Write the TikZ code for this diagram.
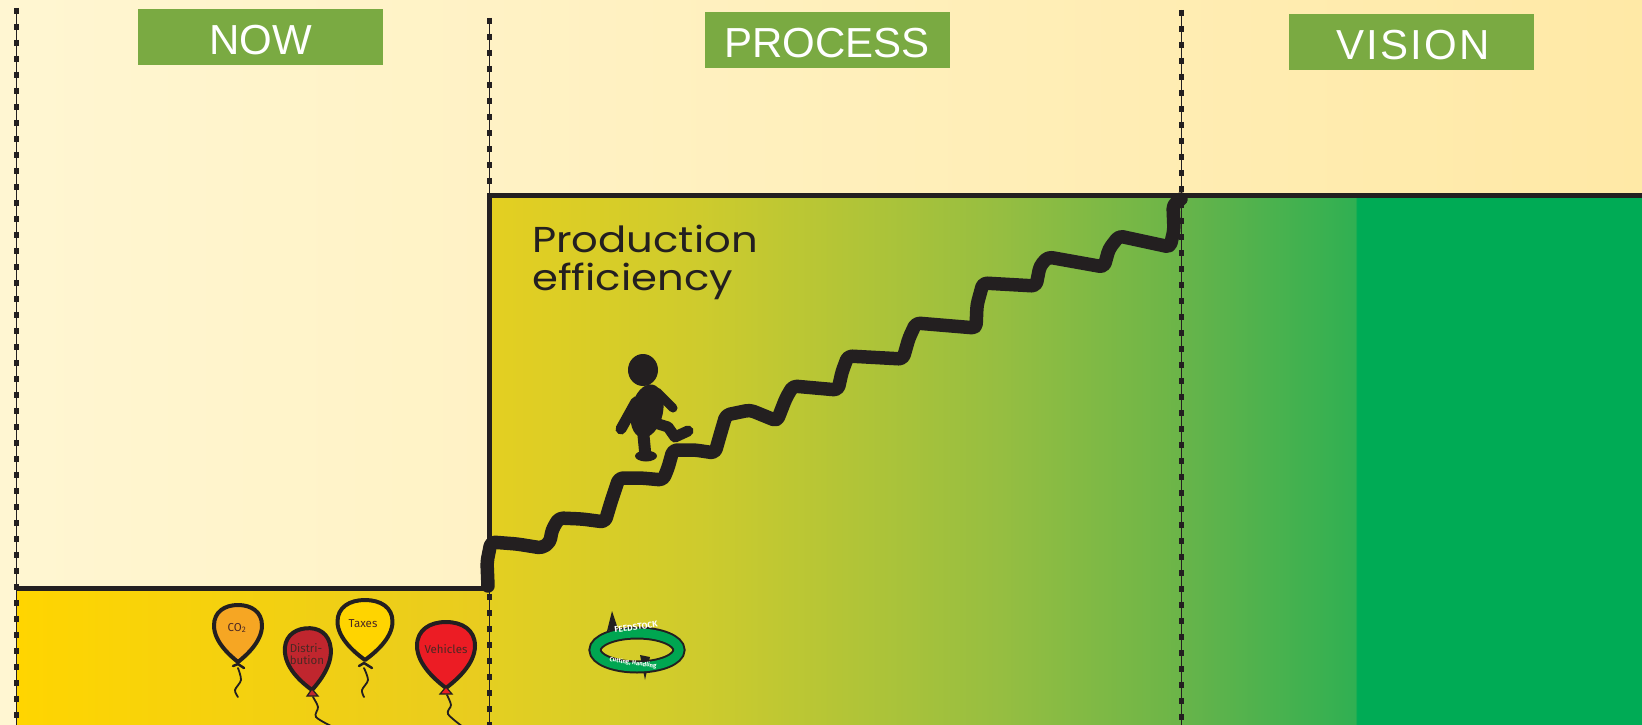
\documentclass[tikz,border=0pt]{standalone}
\usepackage{fontspec}
\setmainfont{Liberation Sans}
\newfontfamily\prodfont[FakeStretch=1.16]{Poppins}
\newfontfamily\tagfont{Fira Sans}

\definecolor{ink}{RGB}{35,31,32}
\definecolor{creamL}{RGB}{255,246,210}
\definecolor{creamR}{RGB}{255,233,166}
\definecolor{nowL}{RGB}{255,213,0}
\definecolor{nowR}{RGB}{232,204,32}
\definecolor{procA}{RGB}{228,207,33}
\definecolor{procB}{RGB}{206,203,45}
\definecolor{procC}{RGB}{150,190,65}
\definecolor{procD}{RGB}{107,181,72}
\definecolor{visA}{RGB}{104,180,74}
\definecolor{visB}{RGB}{48,176,82}
\definecolor{visC}{RGB}{0,171,85}
\definecolor{headgreen}{RGB}{122,170,66}
\definecolor{co2col}{RGB}{246,166,35}
\definecolor{distcol}{RGB}{192,38,46}
\definecolor{taxcol}{RGB}{255,212,0}
\definecolor{vehcol}{RGB}{236,28,36}
\definecolor{ringgreen}{RGB}{0,166,81}
\definecolor{tagink}{RGB}{75,40,35}

% colour runs across the middle and right panels (visible part 25bp..75bp)
\pgfdeclarehorizontalshading{procshade}{100bp}{color(0bp)=(procA); color(25bp)=(procA); color(40.25bp)=(procB); color(61.92bp)=(procC); color(75bp)=(procD); color(100bp)=(procD)}
\pgfdeclarehorizontalshading{visshade}{100bp}{color(0bp)=(visA); color(25bp)=(visA); color(43.9bp)=(visB); color(44.1bp)=(visC); color(75bp)=(visC); color(100bp)=(visC)}

\tikzset{
  header/.style={fill=headgreen, minimum width=245pt, minimum height=56pt, inner sep=0pt},
  headtext/.style={text=white, font=\fontsize{42}{42}\selectfont, inner sep=0pt, anchor=base},
  boxline/.style={draw=ink, line width=5pt, line join=miter},
  stair/.style={draw=ink, line width=13.5pt, line join=round, line cap=round, rounded corners=4pt},
  prodtext/.style={text=ink, font=\prodfont\fontsize{36}{38}\selectfont, inner sep=0pt},
  dividerline/.style={draw=ink, line width=0.8pt},
  dividerdash/.style={draw=ink, line width=5pt, dash pattern=on 6pt off 10pt},
  balloonedge/.style={draw=ink, line width=4pt, line join=round},
  tag/.style={text=tagink, font=\tagfont\fontsize{11.5}{12}\selectfont, inner sep=0pt, align=center},
  cord/.style={draw=ink, line width=1.8pt, line cap=round},
  ringtext/.style={text=white, font=\tagfont\bfseries\fontsize{8.5}{8.5}\selectfont, inner sep=0pt},
  ringtextsmall/.style={text=white, font=\tagfont\bfseries\fontsize{6}{6}\selectfont, inner sep=0pt},
  pics/balloon/.style={code={
    \path[balloonedge, fill=#1] (0,0) .. controls (-0.15,-0.1) and (-0.5,-0.35) .. (-0.5,-0.64)
      .. controls (-0.5,-0.88) and (-0.28,-1) .. (0,-1)
      .. controls (0.28,-1) and (0.5,-0.88) .. (0.5,-0.64)
      .. controls (0.5,-0.35) and (0.15,-0.1) .. (0,0) -- cycle;
  }}
}

\begin{document}
\begin{tikzpicture}[x=1pt,y=-1pt]
\useasboundingbox (0,0) rectangle (1642,725);
\clip (0,0) rectangle (1642,725);

% backgrounds
\shade[left color=creamL, right color=creamR] (0,0) rectangle (1642,725);
\shade[left color=nowL, right color=nowR] (16,588) rectangle (489,725);
\shade[shading=procshade] (489,195) rectangle (1181,725);
\shade[shading=visshade] (1181,195) rectangle (1642,725);

% outline of the two levels
\draw[boxline] (16,588) -- (489,588) -- (489,195) -- (1642,195);

% panel headings
\node[header] (now) at (260.5,37.5) {};
\node[headtext] (nowt) at (260.5,55) {NOW};
\node[header] (process) at (827,40.3) {};
\node[headtext] (processt) at (827,58) {PROCESS};
\node[header] (vision) at (1411,42.4) {};
\node[headtext] (visiont) at (1413,60) {\addfontfeature{LetterSpace=5}VISION};

% heading inside the middle panel
\node[prodtext, anchor=base west] (prod1) at (532,252) {Production};
\node[prodtext, anchor=base west] (prod2) at (532,290) {efficiency};

% the staircase
\draw[stair] (488,586) -- (487,562) -- (491,542) -- (517,544) -- (542,548) -- (550,542)
  -- (552,530) -- (559,518) -- (582,519) -- (605,522) -- (611,502) -- (619,478)
  -- (641,478) -- (663,480) -- (668,468) -- (673,450) -- (695,450) -- (715,453)
  -- (721,432) -- (726,415) -- (750,410) -- (777,421) -- (786,398) -- (793,386)
  -- (838,390) -- (842,372) -- (848,356) -- (903,359) -- (909,338) -- (916,323)
  -- (976,328) -- (977,305) -- (983,283) -- (1036,286) -- (1040,266) -- (1048,257)
  -- (1104,267) -- (1109,249) -- (1119,236) -- (1170,247) -- (1174,230) -- (1173,205)
  -- (1181,199);

% little climber
\fill[ink] (643,370) ellipse [x radius=15pt, y radius=16pt];
\fill[ink, rotate around={-12:(647,411)}] (647,411) ellipse [x radius=16pt, y radius=27pt];
\draw[ink, line width=11pt, line cap=round] (636,402) -- (621,429);
\draw[ink, line width=9pt, line cap=round] (657,392) -- (673,408);
\draw[ink, line width=12pt, line cap=round] (643,430) -- (645,451);
\fill[ink] (646,456) ellipse [x radius=11pt, y radius=5.5pt];
\draw[ink, line width=11pt, line cap=round, line join=round] (652,422) -- (668,427) -- (675,437) -- (688,431);

% feedstock loop
\draw[ink, line width=13pt] (637,650) ellipse [x radius=42pt, y radius=17pt];
\fill[ink] (612,611) -- (607,631) -- (618,629) -- cycle;
\fill[ink] (645,680) -- (640,655) -- (650,657) -- cycle;
\draw[ringgreen, line width=9pt] (637,650) ellipse [x radius=42pt, y radius=17pt];
\node[ringtext, rotate=8] (feed) at (636,627) {FEEDSTOCK};
\node[ringtextsmall, rotate=-8] (cut) at (633,663) {Cutting, Handling};

% balloons
\pic[xscale=48, yscale=57] (co2b) at (238,662) {balloon=co2col};
\node[tag] (co2t) at (237,628) {CO\textsubscript{2}};
\draw[ink, line width=2.5pt, line cap=round] (233,666) -- (238,664) -- (244,668);
\draw[cord] plot[smooth] coordinates {(238,668) (241,680) (235,690) (238,697)};

\pic[rotate=6, xscale=46, yscale=62] (distb) at (312,690) {balloon=distcol};
\node[tag] (dist1) at (306,648) {Distri-};
\node[tag] (dist2) at (307,660) {bution};
\filldraw[fill=distcol, draw=ink, line width=1.2pt] (307,696) -- (312,689) -- (318,696) -- cycle;
\draw[cord] plot[smooth] coordinates {(313,697) (318,707) (316,717) (333,727)};

\pic[xscale=55, yscale=60] (taxb) at (365,660) {balloon=taxcol};
\node[tag] (taxt) at (363,624) {Taxes};
\draw[ink, line width=2.5pt, line cap=round] (359,666) -- (364,663) -- (372,668);
\draw[cord] plot[smooth] coordinates {(364,668) (368,680) (362,690) (364,697)};

\pic[xscale=58, yscale=66] (vehb) at (446,688) {balloon=vehcol};
\node[tag] (veht) at (446,649) {Vehicles};
\filldraw[fill=vehcol, draw=ink, line width=1.2pt] (440,694) -- (446,687) -- (452,694) -- cycle;
\draw[cord] plot[smooth] coordinates {(447,695) (451,705) (448,714) (463,727)};

% dashed dividers
\coordinate (d1top) at (16,8);   \coordinate (d1bot) at (16,725);
\coordinate (d2top) at (489,18); \coordinate (d2bot) at (489,725);
\coordinate (d3top) at (1181,10); \coordinate (d3bot) at (1181,725);
\foreach \d in {d1,d2,d3}{
  \draw[dividerline] (\d top) -- (\d bot);
  \draw[dividerdash] (\d top) -- (\d bot);
}
\end{tikzpicture}
\end{document}
